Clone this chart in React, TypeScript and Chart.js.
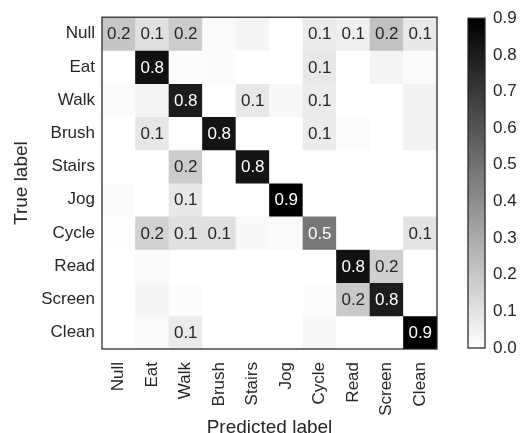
import React, { useEffect, useRef } from "react";
import { Chart, registerables } from "chart.js";

Chart.register(...registerables);

const predictedLabels = ["Null", "Eat", "Walk", "Brush", "Stairs", "Jog", "Cycle", "Read", "Screen", "Clean"];
const trueLabels = ["Null", "Eat", "Walk", "Brush", "Stairs", "Jog", "Cycle", "Read", "Screen", "Clean"];

const rowNull = [0.2, 0.11, 0.18, 0.018, 0.035, 0.0, 0.07, 0.055, 0.22, 0.08];
const rowEat = [0.0, 0.84, 0.01, 0.018, 0.0, 0.0, 0.08, 0.0, 0.04, 0.018];
const rowWalk = [0.018, 0.035, 0.8, 0.0, 0.08, 0.025, 0.07, 0.0, 0.0, 0.045];
const rowBrush = [0.0, 0.09, 0.0, 0.83, 0.0, 0.0, 0.07, 0.015, 0.0, 0.045];
const rowStairs = [0.0, 0.0, 0.18, 0.0, 0.83, 0.0, 0.0, 0.0, 0.0, 0.0];
const rowJog = [0.018, 0.0, 0.08, 0.0, 0.0, 0.92, 0.0, 0.0, 0.0, 0.0];
const rowCycle = [0.005, 0.16, 0.11, 0.11, 0.025, 0.018, 0.48, 0.0, 0.0, 0.1];
const rowRead = [0.0, 0.018, 0.0, 0.0, 0.0, 0.0, 0.0, 0.84, 0.17, 0.0];
const rowScreen = [0.0, 0.035, 0.01, 0.0, 0.0, 0.0, 0.01, 0.19, 0.8, 0.0];
const rowClean = [0.0, 0.018, 0.07, 0.0, 0.0, 0.0, 0.03, 0.0, 0.0, 0.9];

const matrix = [rowNull, rowEat, rowWalk, rowBrush, rowStairs, rowJog, rowCycle, rowRead, rowScreen, rowClean];

const colorbarTicks = [0.0, 0.1, 0.2, 0.3, 0.4, 0.5, 0.6, 0.7, 0.8, 0.9];
const vmax = 0.9;

const FONT = "'Liberation Sans', Arial, sans-serif";
const TEXT = "#262626";

function grayFor(v: number): string {
  const t = Math.max(0, Math.min(1, v / vmax));
  const g = Math.round(255 * (1 - t));
  return `rgb(${g},${g},${g})`;
}

const borderPlugin = {
  id: "frame",
  afterDraw(chart: any) {
    const { ctx, chartArea } = chart;
    ctx.save();
    ctx.strokeStyle = TEXT;
    ctx.lineWidth = 1.25;
    ctx.strokeRect(chartArea.left, chartArea.top, chartArea.right - chartArea.left, chartArea.bottom - chartArea.top);
    ctx.restore();
  },
};

const cellTextPlugin = {
  id: "cellText",
  afterDatasetsDraw(chart: any) {
    const { ctx } = chart;
    ctx.save();
    ctx.font = `17px ${FONT}`;
    ctx.textAlign = "center";
    ctx.textBaseline = "middle";
    matrix.forEach((row, r) => {
      const meta = chart.getDatasetMeta(r);
      row.forEach((v, c) => {
        const rounded = Math.round(v * 10) / 10;
        if (rounded < 0.1) return;
        const el = meta.data[c];
        if (!el) return;
        const p = el.getCenterPoint();
        ctx.fillStyle = v > vmax / 2 ? "#ffffff" : TEXT;
        ctx.fillText(v.toFixed(1), p.x, p.y + 1);
      });
    });
    ctx.restore();
  },
};

export default function App() {
  const mainRef = useRef<HTMLCanvasElement>(null);
  const barRef = useRef<HTMLCanvasElement>(null);

  useEffect(() => {
    const main = new Chart(mainRef.current!, {
      type: "bar",
      data: {
        labels: predictedLabels,
        datasets: matrix.map((row, r) => ({
          label: trueLabels[r],
          data: row.map(() => [r, r + 1]) as any,
          backgroundColor: row.map((v) => grayFor(v)),
          borderWidth: 0,
          barPercentage: 1,
          categoryPercentage: 1,
          grouped: false,
        })),
      },
      options: {
        animation: false,
        responsive: false,
        maintainAspectRatio: false,
        layout: { padding: { top: 12, right: 23, left: 0, bottom: 0 } },
        plugins: { legend: { display: false }, tooltip: { enabled: false } },
        scales: {
          x: {
            type: "category",
            grid: { display: false },
            border: { display: false },
            ticks: {
              autoSkip: false,
              maxRotation: 90,
              minRotation: 90,
              padding: 5,
              color: TEXT,
              font: { family: FONT, size: 17 },
            },
            title: {
              display: true,
              text: "Predicted label",
              color: TEXT,
              font: { family: FONT, size: 19, lineHeight: 1 },
              padding: { top: 0, bottom: -4 },
            },
            afterFit: (scale: any) => {
              scale.height = 84;
            },
          },
          y: {
            type: "linear",
            reverse: true,
            min: 0,
            max: 10,
            afterBuildTicks: (scale: any) => {
              scale.ticks = trueLabels.map((_, i) => ({ value: i + 0.5 }));
            },
            grid: { display: false, drawTicks: false },
            border: { display: false },
            ticks: {
              autoSkip: false,
              padding: 7,
              color: TEXT,
              font: { family: FONT, size: 17 },
              callback: (_v: any, i: number) => trueLabels[i],
            },
            title: {
              display: true,
              text: "True label",
              color: TEXT,
              font: { family: FONT, size: 19, lineHeight: 1 },
              padding: { top: 12, bottom: 0 },
            },
            afterFit: (scale: any) => {
              scale.width = 102;
            },
          },
        },
      },
      plugins: [cellTextPlugin, borderPlugin],
    });

    const bar = new Chart(barRef.current!, {
      type: "bar",
      data: {
        labels: ["cb"],
        datasets: [
          {
            data: [[colorbarTicks[0], colorbarTicks[colorbarTicks.length - 1]]] as any,
            backgroundColor: (context: any) => {
              const chart = context.chart;
              const area = chart.chartArea;
              if (!area) return "#888";
              const g = chart.ctx.createLinearGradient(0, area.bottom, 0, area.top);
              g.addColorStop(0, "#ffffff");
              g.addColorStop(1, "#000000");
              return g;
            },
            borderWidth: 0,
            barPercentage: 1,
            categoryPercentage: 1,
          },
        ],
      },
      options: {
        animation: false,
        responsive: false,
        maintainAspectRatio: false,
        layout: { padding: { top: 12, left: 8, right: 0, bottom: 85 } },
        plugins: { legend: { display: false }, tooltip: { enabled: false } },
        scales: {
          x: { display: false },
          y: {
            position: "right",
            min: 0,
            max: vmax,
            afterBuildTicks: (scale: any) => {
              scale.ticks = colorbarTicks.map((v) => ({ value: v }));
            },
            grid: { display: false, drawTicks: false },
            border: { display: false },
            ticks: {
              padding: 8,
              color: TEXT,
              font: { family: FONT, size: 17 },
              callback: (v: any) => Number(v).toFixed(1),
            },
            afterFit: (scale: any) => {
              scale.width = 42;
            },
          },
        },
      },
      plugins: [borderPlugin],
    });

    return () => {
      main.destroy();
      bar.destroy();
    };
  }, []);

  return (
    <div style={{ position: "absolute", left: 0, top: 0, width: 527, height: 433, background: "#fff" }}>
      <canvas ref={mainRef} width={460} height={433} style={{ position: "absolute", left: 0, top: 0 }} />
      <canvas ref={barRef} width={67} height={433} style={{ position: "absolute", left: 460, top: 0 }} />
    </div>
  );
}
